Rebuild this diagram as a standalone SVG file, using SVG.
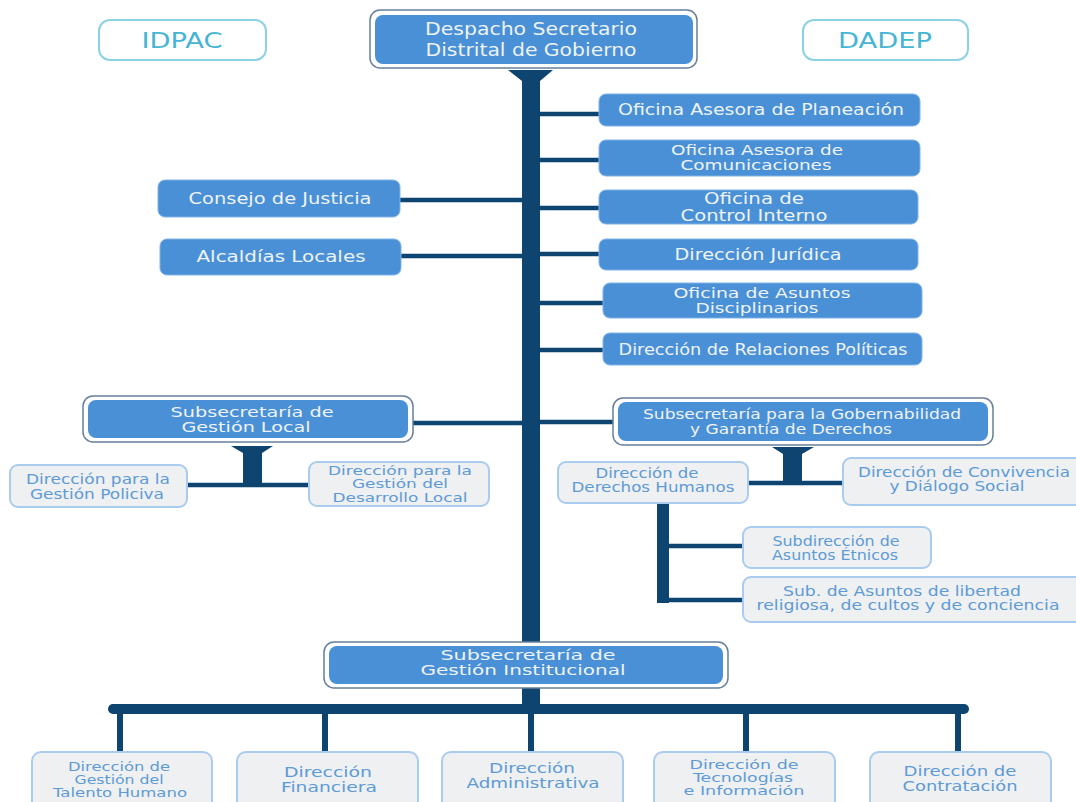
<svg xmlns="http://www.w3.org/2000/svg" width="1076" height="802" viewBox="0 0 1076 802">
<style>
text{font-family:"DejaVu Sans","Verdana",sans-serif;text-anchor:middle}
.bt{fill:#eef3f8;font-size:15.5px}
.b2{fill:#eef3f8;font-size:14px}
.tt{fill:#eef3f8;font-size:18px}
.lt{fill:#5e9bd6;font-size:13.5px}
.l3{fill:#5e9bd6;font-size:12.5px}
.ct{fill:#45b5d5;font-size:22px}
.blue{fill:#4a90d6;stroke:#7fb3e6;stroke-width:1}
.inner{fill:#4a90d6}
.frame{fill:#ffffff;stroke:#677f99;stroke-width:1.5}
.light{fill:#eef0f1;stroke:#a9cbee;stroke-width:2}
.cyan{fill:#ffffff;stroke:#8ad2e4;stroke-width:2}
.nav{fill:#0e4470}
.br{stroke:#0e4470;stroke-width:4.5;fill:none}
</style>
<rect width="1076" height="802" fill="#ffffff"/>
<g id="connectors">
  <polygon class="nav" points="508,70 553,70 540,81 522,81"/>
  <rect class="nav" x="522" y="70" width="18" height="638"/>
  <line class="br" x1="539" y1="114" x2="600" y2="114"/>
  <line class="br" x1="539" y1="160" x2="600" y2="160"/>
  <line class="br" x1="539" y1="208" x2="600" y2="208"/>
  <line class="br" x1="539" y1="254" x2="600" y2="254"/>
  <line class="br" x1="539" y1="303" x2="604" y2="303"/>
  <line class="br" x1="539" y1="350" x2="604" y2="350"/>
  <line class="br" x1="539" y1="422" x2="614" y2="422"/>
  <line class="br" x1="400" y1="200" x2="523" y2="200"/>
  <line class="br" x1="401" y1="256" x2="523" y2="256"/>
  <line class="br" x1="413" y1="423" x2="523" y2="423"/>
  <polygon class="nav" points="231,446 273,446 262,453 243,453"/>
  <rect class="nav" x="243" y="446" width="19" height="39"/>
  <line class="br" x1="187" y1="485" x2="310" y2="485"/>
  <polygon class="nav" points="772,447 814,447 802,454 783,454"/>
  <rect class="nav" x="783" y="447" width="19" height="36"/>
  <line class="br" x1="748" y1="483" x2="844" y2="483"/>
  <rect class="nav" x="657" y="503" width="12" height="100"/>
  <line class="br" x1="668" y1="546" x2="744" y2="546"/>
  <line class="br" x1="657" y1="600" x2="744" y2="600"/>
  <rect class="nav" x="108" y="704" width="861" height="10" rx="5"/>
  <rect class="nav" x="117" y="712" width="6" height="41"/>
  <rect class="nav" x="322" y="712" width="6" height="41"/>
  <rect class="nav" x="528" y="712" width="6" height="41"/>
  <rect class="nav" x="743" y="712" width="6" height="41"/>
  <rect class="nav" x="955" y="712" width="6" height="41"/>
</g>
<g id="idpac">
  <rect class="cyan" x="99" y="20" width="167" height="40" rx="11"/>
  <text class="ct" x="182" y="48" textLength="81" lengthAdjust="spacingAndGlyphs">IDPAC</text>
</g>
<g id="dadep">
  <rect class="cyan" x="803" y="20" width="165" height="40" rx="11"/>
  <text class="ct" x="885" y="48" textLength="94" lengthAdjust="spacingAndGlyphs">DADEP</text>
</g>
<g id="despacho">
  <rect class="frame" x="370" y="10" width="327" height="58" rx="10"/>
  <rect class="inner" x="375" y="15" width="318" height="49" rx="8"/>
  <text class="tt" x="531" y="35" textLength="212" lengthAdjust="spacingAndGlyphs">Despacho Secretario</text>
  <text class="tt" x="531" y="56" textLength="211" lengthAdjust="spacingAndGlyphs">Distrital de Gobierno</text>
</g>
<g id="planeacion">
  <rect class="blue" x="599" y="94" width="321" height="32" rx="7"/>
  <text class="bt" x="761" y="115" textLength="286" lengthAdjust="spacingAndGlyphs">Oficina Asesora de Planeación</text>
</g>
<g id="comunicaciones">
  <rect class="blue" x="599" y="140" width="321" height="36" rx="7"/>
  <text class="b2" x="757" y="155" textLength="172" lengthAdjust="spacingAndGlyphs">Oficina Asesora de</text>
  <text class="b2" x="756" y="170" textLength="151" lengthAdjust="spacingAndGlyphs">Comunicaciones</text>
</g>
<g id="control">
  <rect class="blue" x="599" y="190" width="319" height="34" rx="7"/>
  <text class="bt" x="754" y="204" textLength="100" lengthAdjust="spacingAndGlyphs">Oficina de</text>
  <text class="bt" x="754" y="221" textLength="147" lengthAdjust="spacingAndGlyphs">Control Interno</text>
</g>
<g id="juridica">
  <rect class="blue" x="599" y="239" width="319" height="31" rx="7"/>
  <text class="bt" x="758" y="260" textLength="167" lengthAdjust="spacingAndGlyphs">Dirección Jurídica</text>
</g>
<g id="disciplinarios">
  <rect class="blue" x="603" y="283" width="319" height="35" rx="7"/>
  <text class="b2" x="762" y="298" textLength="177" lengthAdjust="spacingAndGlyphs">Oficina de Asuntos</text>
  <text class="b2" x="757" y="313" textLength="123" lengthAdjust="spacingAndGlyphs">Disciplinarios</text>
</g>
<g id="relaciones">
  <rect class="blue" x="603" y="333" width="319" height="32" rx="7"/>
  <text class="bt" x="763" y="355" textLength="289" lengthAdjust="spacingAndGlyphs">Dirección de Relaciones Políticas</text>
</g>
<g id="consejo">
  <rect class="blue" x="158" y="180" width="242" height="37" rx="7"/>
  <text class="bt" x="280" y="204" textLength="183" lengthAdjust="spacingAndGlyphs">Consejo de Justicia</text>
</g>
<g id="alcaldias">
  <rect class="blue" x="160" y="239" width="241" height="36" rx="7"/>
  <text class="bt" x="281" y="262" textLength="169" lengthAdjust="spacingAndGlyphs">Alcaldías Locales</text>
</g>
<g id="gestion-local">
  <rect class="frame" x="83" y="396" width="330" height="46" rx="10"/>
  <rect class="inner" x="88" y="400" width="320" height="38" rx="8"/>
  <text class="b2" x="252" y="417" textLength="163" lengthAdjust="spacingAndGlyphs">Subsecretaría de</text>
  <text class="b2" x="246" y="432" textLength="129" lengthAdjust="spacingAndGlyphs">Gestión Local</text>
</g>
<g id="policiva">
  <rect class="light" x="10" y="465" width="177" height="42" rx="8"/>
  <text class="lt" x="98" y="484" textLength="144" lengthAdjust="spacingAndGlyphs">Dirección para la</text>
  <text class="lt" x="97" y="499" textLength="134" lengthAdjust="spacingAndGlyphs">Gestión Policiva</text>
</g>
<g id="desarrollo-local">
  <rect class="light" x="309" y="462" width="180" height="44" rx="8"/>
  <text class="l3" x="400" y="475" textLength="144" lengthAdjust="spacingAndGlyphs">Dirección para la</text>
  <text class="l3" x="400" y="488" textLength="96" lengthAdjust="spacingAndGlyphs">Gestión del</text>
  <text class="l3" x="400" y="502" textLength="135" lengthAdjust="spacingAndGlyphs">Desarrollo Local</text>
</g>
<g id="gobernabilidad">
  <rect class="frame" x="613" y="398" width="380" height="47" rx="10"/>
  <rect class="inner" x="618" y="402" width="370" height="39" rx="8"/>
  <text class="b2" x="802" y="419" textLength="318" lengthAdjust="spacingAndGlyphs">Subsecretaría para la Gobernabilidad</text>
  <text class="b2" x="791" y="434" textLength="202" lengthAdjust="spacingAndGlyphs">y Garantía de Derechos</text>
</g>
<g id="derechos-humanos">
  <rect class="light" x="558" y="462" width="190" height="41" rx="8"/>
  <text class="lt" x="647" y="478" textLength="103" lengthAdjust="spacingAndGlyphs">Dirección de</text>
  <text class="lt" x="653" y="492" textLength="163" lengthAdjust="spacingAndGlyphs">Derechos Humanos</text>
</g>
<g id="convivencia">
  <rect class="light" x="843" y="458" width="240" height="47" rx="8"/>
  <text class="lt" x="964" y="477" textLength="212" lengthAdjust="spacingAndGlyphs">Dirección de Convivencia</text>
  <text class="lt" x="957" y="491" textLength="135" lengthAdjust="spacingAndGlyphs">y Diálogo Social</text>
</g>
<g id="etnicos">
  <rect class="light" x="743" y="527" width="188" height="41" rx="8"/>
  <text class="lt" x="836" y="546" textLength="127" lengthAdjust="spacingAndGlyphs">Subdirección de</text>
  <text class="lt" x="835" y="560" textLength="126" lengthAdjust="spacingAndGlyphs">Asuntos Étnicos</text>
</g>
<g id="libertad">
  <rect class="light" x="743" y="577" width="340" height="45" rx="8"/>
  <text class="lt" x="902" y="596" textLength="238" lengthAdjust="spacingAndGlyphs">Sub. de Asuntos de libertad</text>
  <text class="lt" x="908" y="610" textLength="303" lengthAdjust="spacingAndGlyphs">religiosa, de cultos y de conciencia</text>
</g>
<g id="gestion-institucional">
  <rect class="frame" x="324" y="642" width="404" height="46" rx="10"/>
  <rect class="inner" x="329" y="646" width="394" height="38" rx="8"/>
  <text class="b2" x="528" y="660" textLength="175" lengthAdjust="spacingAndGlyphs">Subsecretaría de</text>
  <text class="b2" x="523" y="675" textLength="205" lengthAdjust="spacingAndGlyphs">Gestión Institucional</text>
</g>
<g id="talento-humano">
  <rect class="light" x="32" y="752" width="180" height="60" rx="9"/>
  <text class="l3" x="119" y="771" textLength="102" lengthAdjust="spacingAndGlyphs">Dirección de</text>
  <text class="l3" x="119" y="784" textLength="89" lengthAdjust="spacingAndGlyphs">Gestión del</text>
  <text class="l3" x="120" y="797" textLength="134" lengthAdjust="spacingAndGlyphs">Talento Humano</text>
</g>
<g id="financiera">
  <rect class="light" x="237" y="752" width="181" height="60" rx="9"/>
  <text class="lt" x="328" y="777" textLength="88" lengthAdjust="spacingAndGlyphs">Dirección</text>
  <text class="lt" x="329" y="792" textLength="96" lengthAdjust="spacingAndGlyphs">Financiera</text>
</g>
<g id="administrativa">
  <rect class="light" x="442" y="752" width="181" height="60" rx="9"/>
  <text class="lt" x="532" y="773" textLength="86" lengthAdjust="spacingAndGlyphs">Dirección</text>
  <text class="lt" x="533" y="788" textLength="133" lengthAdjust="spacingAndGlyphs">Administrativa</text>
</g>
<g id="tecnologias">
  <rect class="light" x="654" y="752" width="181" height="60" rx="9"/>
  <text class="l3" x="744" y="769" textLength="109" lengthAdjust="spacingAndGlyphs">Dirección de</text>
  <text class="l3" x="743" y="782" textLength="100" lengthAdjust="spacingAndGlyphs">Tecnologías</text>
  <text class="l3" x="744" y="795" textLength="121" lengthAdjust="spacingAndGlyphs">e Información</text>
</g>
<g id="contratacion">
  <rect class="light" x="870" y="752" width="181" height="60" rx="9"/>
  <text class="lt" x="960" y="776" textLength="113" lengthAdjust="spacingAndGlyphs">Dirección de</text>
  <text class="lt" x="960" y="791" textLength="115" lengthAdjust="spacingAndGlyphs">Contratación</text>
</g>
</svg>
